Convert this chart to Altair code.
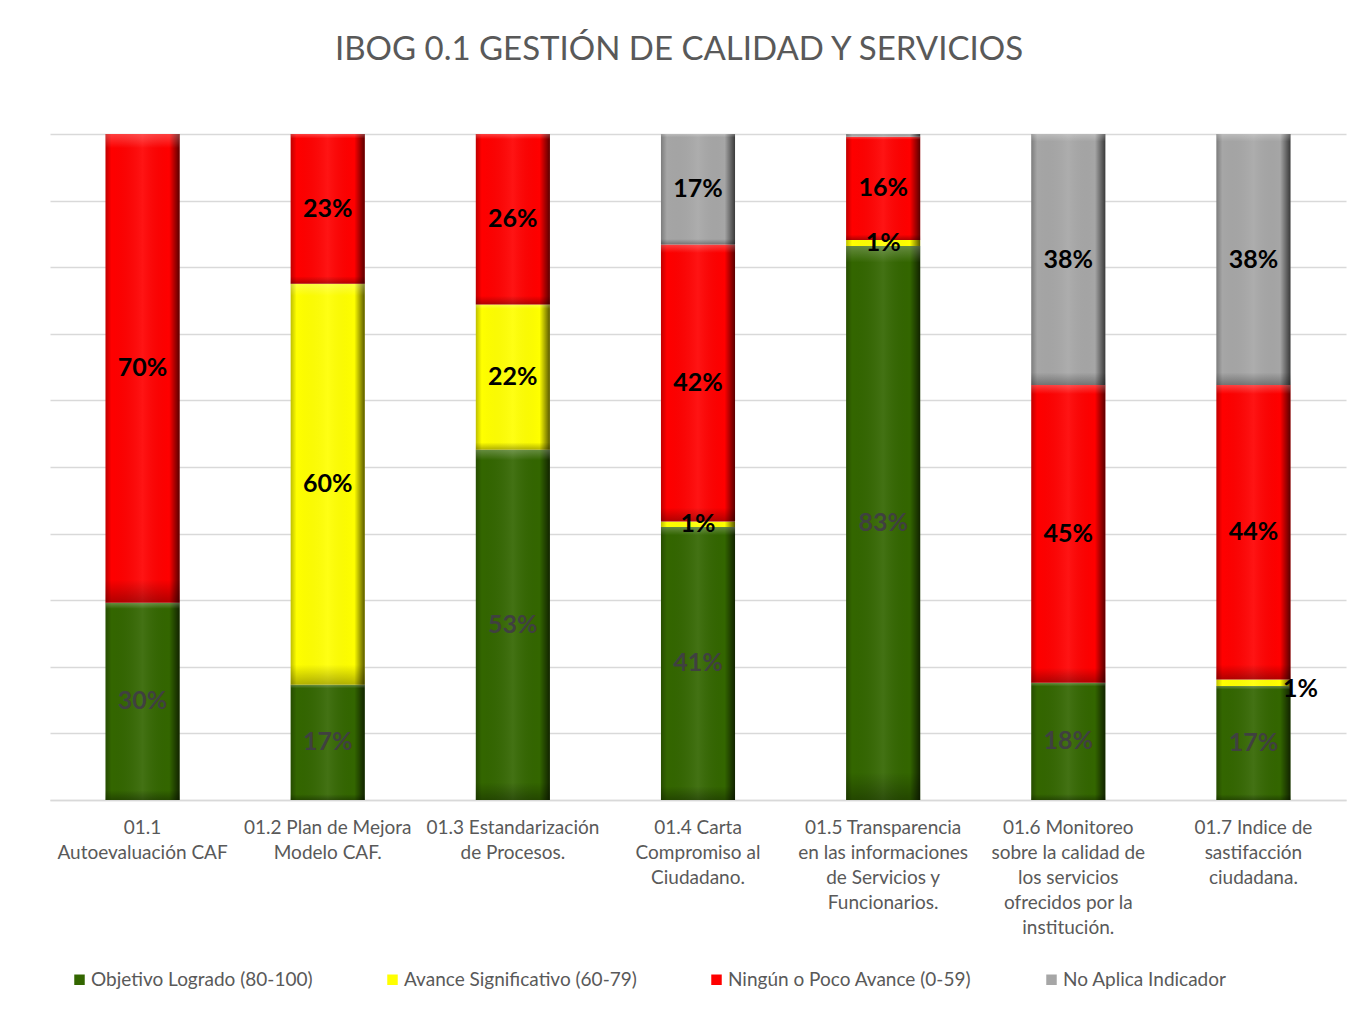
import altair as alt
import pandas as pd

categories = [
    "01.1|Autoevaluación CAF",
    "01.2 Plan de Mejora|Modelo CAF.",
    "01.3 Estandarización|de Procesos.",
    "01.4 Carta|Compromiso al|Ciudadano.",
    "01.5 Transparencia|en las informaciones|de Servicios y|Funcionarios.",
    "01.6 Monitoreo|sobre la calidad de|los servicios|ofrecidos por la|institución.",
    "01.7 Indice de|sastifacción|ciudadana.",
]
series = [
    "Objetivo Logrado (80-100)",
    "Avance Significativo (60-79)",
    "Ningún o Poco Avance (0-59)",
    "No Aplica Indicador",
]
colors = ["#336600", "#ffff00", "#ff0000", "#a6a6a6"]

green = [29.6, 17.3, 52.6, 41.0, 83.2, 17.6, 17.1]
yellow = [0.0, 60.2, 21.8, 0.8, 0.9, 0.0, 1.0]
red = [70.4, 22.5, 25.6, 41.6, 15.5, 44.7, 44.2]
gray = [0.0, 0.0, 0.0, 16.6, 0.4, 37.7, 37.7]

rows = []
for i, c in enumerate(categories):
    for j, vals in enumerate([green, yellow, red, gray]):
        rows.append({"cat": c, "serie": series[j], "ord": j, "val": vals[i]})
df = pd.DataFrame(rows)

base = alt.Chart(df).transform_stack(
    stack="val", groupby=["cat"], sort=[alt.SortField("ord", order="ascending")], as_=["y0", "y1"]
)

x = alt.X(
    "cat:N",
    sort=categories,
    scale=alt.Scale(paddingInner=0.6, paddingOuter=0.3),
    axis=alt.Axis(
        title=None, labelAngle=0, labelExpr="split(datum.label, '|')",
        labelFont="Lato", labelFontSize=19, labelColor="#595959", labelLineHeight=25,
        ticks=False, domainColor="#d9d9d9", domainWidth=1.5, labelPadding=18, labelLimit=0,
        labelBaseline="top",
    ),
)
y = alt.Y(
    "y0:Q",
    scale=alt.Scale(domain=[0, 100], nice=False),
    axis=alt.Axis(title=None, labels=False, ticks=False, domain=False, grid=True,
                  gridColor="#d9d9d9", gridWidth=1.5, values=list(range(0, 101, 10))),
)
y2 = alt.Y2("y1:Q")

bars = base.mark_bar(strokeWidth=0).encode(
    x=x, y=y, y2=y2,
    color=alt.Color(
        "serie:N",
        scale=alt.Scale(domain=series, range=colors),
        legend=alt.Legend(
            title=None, orient="none", direction="horizontal", legendX=20, legendY=836,
            labelFont="Lato", labelFontSize=19, labelColor="#595959", symbolType="square",
            symbolSize=110, symbolStrokeWidth=0, columnPadding=70, labelOffset=2, padding=0,
            labelLimit=0,
        ),
    ),
)

shade_h = base.mark_bar(
    color=alt.Gradient(
        gradient="linear", x1=0, x2=1, y1=0, y2=0,
        stops=[
            alt.GradientStop(color="rgba(0,0,0,0.25)", offset=0),
            alt.GradientStop(color="rgba(0,0,0,0)", offset=0.08),
            alt.GradientStop(color="rgba(255,255,255,0.08)", offset=0.5),
            alt.GradientStop(color="rgba(0,0,0,0)", offset=0.86),
            alt.GradientStop(color="rgba(0,0,0,0.65)", offset=1),
        ],
    )
).encode(x=x, y=y, y2=y2)

shade_v = base.mark_bar(
    color=alt.Gradient(
        gradient="linear", x1=0, x2=0, y1=0, y2=1,
        stops=[
            alt.GradientStop(color="rgba(255,255,255,0.25)", offset=0),
            alt.GradientStop(color="rgba(255,255,255,0)", offset=0.03),
            alt.GradientStop(color="rgba(0,0,0,0)", offset=0.95),
            alt.GradientStop(color="rgba(0,0,0,0.3)", offset=1),
        ],
    )
).encode(x=x, y=y, y2=y2)

lab_base = base.transform_calculate(
    mid="(datum.y0 + datum.y1) / 2", lab="round(datum.val) + '%'"
)

labels = lab_base.transform_filter(
    f"datum.val >= 0.5 && !(datum.cat == '{categories[6]}' && datum.ord == 1)"
).mark_text(font="Lato", fontSize=25, fontWeight="bold", baseline="middle").encode(
    x=x,
    y=alt.Y("mid:Q"),
    text="lab:N",
    color=alt.condition("datum.ord == 0", alt.value("#404040"), alt.value("#000000")),
)

side_label = lab_base.transform_filter(
    f"datum.cat == '{categories[6]}' && datum.ord == 1"
).mark_text(font="Lato", fontSize=25, fontWeight="bold", baseline="middle", dx=47, dy=6, color="#000000").encode(
    x=x, y=alt.Y("mid:Q"), text="lab:N"
)

chart = alt.layer(bars, shade_h, shade_v, labels, side_label).properties(
    width=1296,
    height=666,
    autosize=alt.AutoSizeParams(type="none"),
    padding={"left": 42, "top": 126, "right": 4, "bottom": 200},
    background="white",
    title=alt.TitleParams(
        "IBOG 0.1 GESTIÓN DE CALIDAD  Y SERVICIOS",
        font="Lato", fontSize=33, fontWeight="normal", color="#595959",
        anchor="middle", offset=41, baseline="alphabetic", dx=-19,
    ),
).configure_view(stroke=None)

chart.save("out.html", embed_options={"renderer": "svg", "actions": False})
